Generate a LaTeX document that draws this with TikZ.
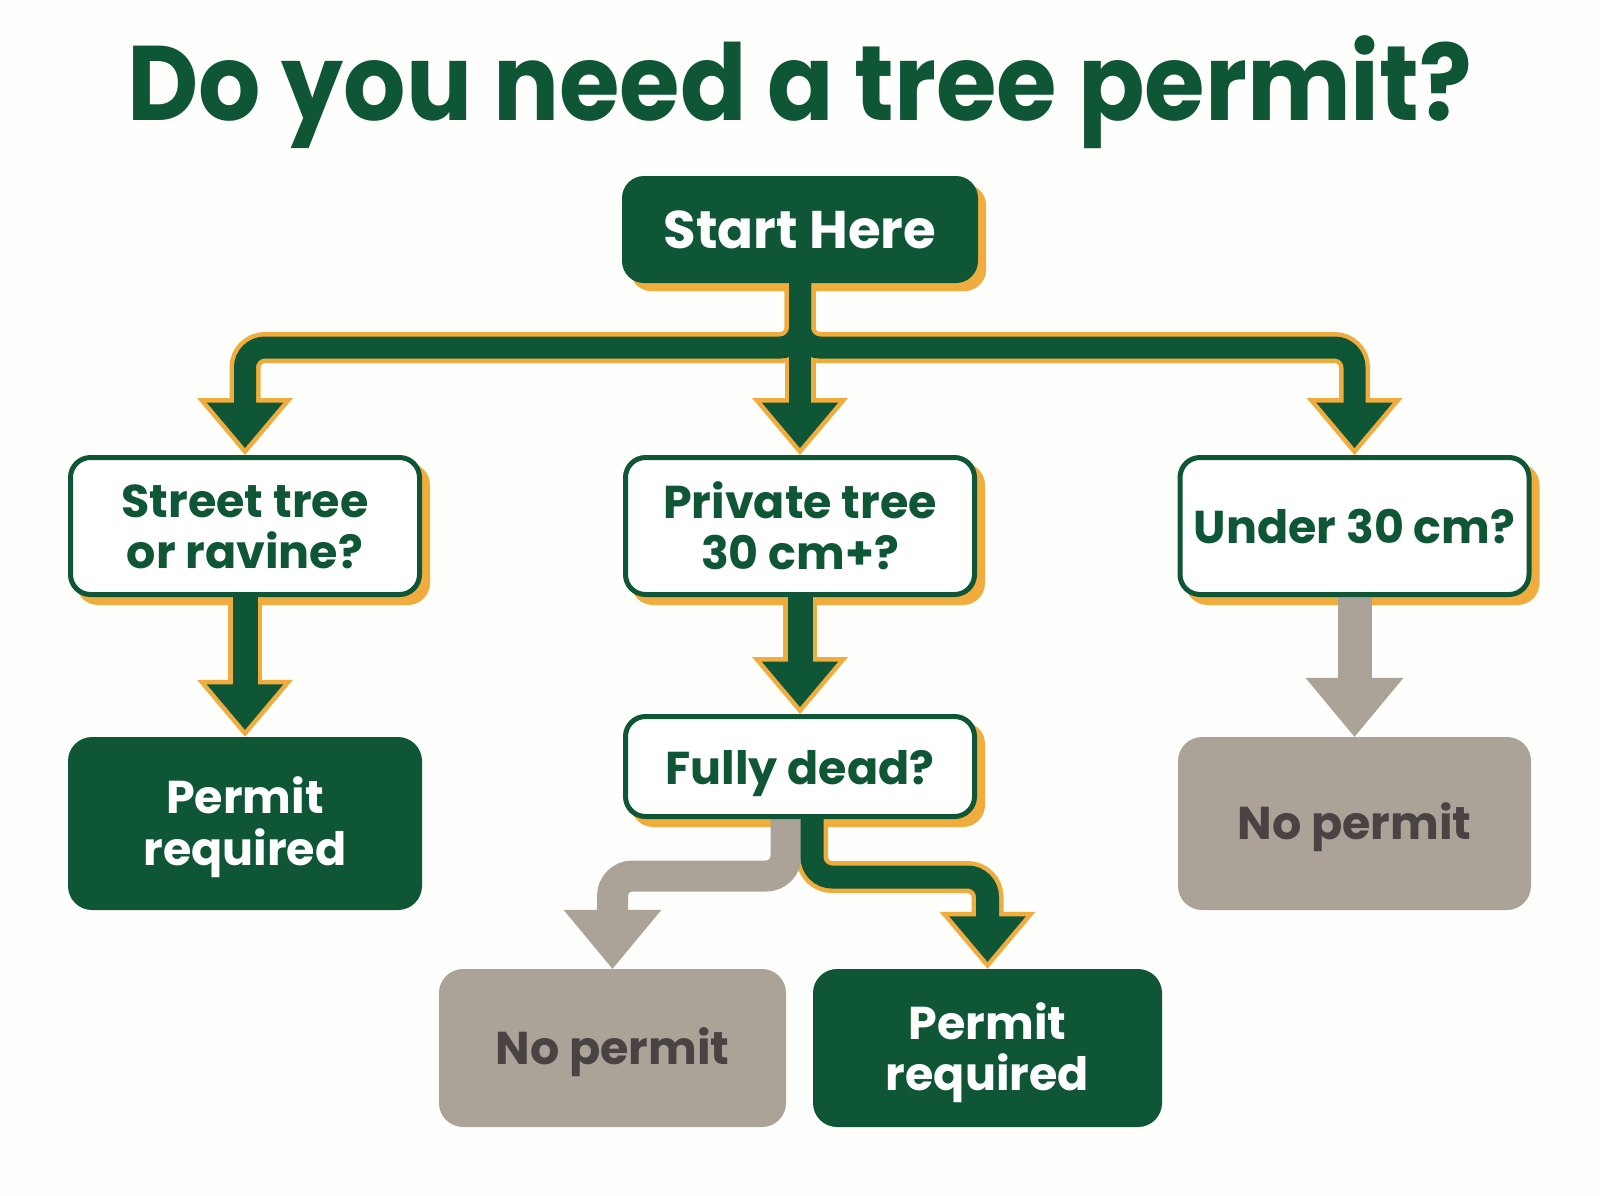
\documentclass[tikz,border=0pt]{standalone}
\usepackage{fontspec}
\setmainfont{Poppins}
\newfontfamily\titlefont{Poppins}[FakeStretch=0.925]
\usetikzlibrary{calc}
\definecolor{tgreen}{HTML}{0E5636}
\definecolor{torange}{HTML}{F0AD3E}
\definecolor{tgrey}{HTML}{ABA398}
\definecolor{tgreytext}{HTML}{4A4343}
\definecolor{paper}{HTML}{FEFEFD}
\pgfdeclarelayer{paper}
\pgfdeclarelayer{shadows}
\pgfdeclarelayer{links}
\pgfsetlayers{paper,shadows,links,main}
\begin{document}
\begin{tikzpicture}[x=1pt,y=-1pt,
  qbox/.style={rectangle, rounded corners=20, draw=tgreen, line width=5, fill=white,
    minimum width=349, minimum height=137, inner sep=0},
  startbox/.style={rectangle, rounded corners=22, fill=tgreen, minimum width=356,
    minimum height=107, inner sep=0},
  yesbox/.style={rectangle, rounded corners=24, fill=tgreen, inner sep=0},
  nobox/.style={rectangle, rounded corners=24, fill=tgrey, inner sep=0},
  lbl/.style={anchor=base, inner sep=0, font=\bfseries\fontsize{46}{46}\selectfont},
  qlbl/.style={lbl, text=tgreen},
  wlbl/.style={lbl, text=white},
  nlbl/.style={lbl, text=tgreytext},
  olink/.style={draw=torange, line width=#1, rounded corners=20},
  glink/.style={draw=tgreen, line width=#1, rounded corners=20},
  ylink/.style={draw=tgrey, line width=#1, rounded corners=20},
  headO/.pic={\fill[torange] (0,0) -- (48,-57) -- (-48,-57) -- cycle;},
  headG/.pic={\fill[tgreen] (0,-7) -- (38.3,-52.5) -- (-38.3,-52.5) -- cycle;},
  headY/.pic={\fill[tgrey] (0,0) -- (49,-59) -- (-49,-59) -- cycle;}
]
\begin{pgfonlayer}{paper}
  \fill[paper] (0,0) rectangle (1600,1195);
\end{pgfonlayer}
\useasboundingbox (0,0) rectangle (1600,1195);

% title
\node[anchor=base, inner sep=0, text=tgreen, font=\titlefont\bfseries\fontsize{106}{106}\selectfont]
  (title) at (800,120) {Do you need a tree permit?};

% boxes
\node[startbox] (start) at (800,229.5) {};
\node[qbox] (street) at (245,526) {};
\node[qbox] (private) at (800,526) {};
\node[qbox] (under) at (1354.5,526) {};
\node[qbox, minimum height=100] (dead) at (800,766.5) {};
\node[yesbox, minimum width=354, minimum height=173] (permitA) at (245,823.5) {};
\node[nobox, minimum width=353, minimum height=173] (nopermitR) at (1354.5,823.5) {};
\node[nobox, minimum width=347, minimum height=158] (nopermitB) at (612.5,1048) {};
\node[yesbox, minimum width=349, minimum height=158] (permitB) at (987.5,1048) {};

% labels
\node[wlbl, font=\bfseries\fontsize{53}{53}\selectfont] (startT) at ($(start)+(0,18.5)$) {Start Here};
\node[qlbl] (streetA) at ($(street)+(0,-9)$) {Street tree};
\node[qlbl] (streetB) at ($(street)+(0,42)$) {or ravine?};
\node[qlbl] (privateA) at ($(private)+(0,-8)$) {Private tree};
\node[qlbl] (privateB) at ($(private)+(0,43)$) {30 cm+?};
\node[qlbl] (underT) at ($(under)+(0,17)$) {Under 30 cm?};
\node[qlbl] (deadT) at ($(dead)+(0,17.5)$) {Fully dead?};
\node[wlbl] (permitAa) at ($(permitA)+(0,-10.5)$) {Permit};
\node[wlbl] (permitAb) at ($(permitA)+(0,41.5)$) {required};
\node[nlbl] (nopermitRT) at ($(nopermitR)+(0,15.5)$) {No permit};
\node[nlbl] (nopermitBT) at ($(nopermitB)+(0,16)$) {No permit};
\node[wlbl] (permitBa) at ($(permitB)+(0,-9)$) {Permit};
\node[wlbl] (permitBb) at ($(permitB)+(0,42)$) {required};

% orange drop shadows behind the question boxes
\begin{pgfonlayer}{shadows}
  \foreach \b in {start,street,private,under,dead}
    \fill[torange, rounded corners=22] ([shift={(8,8)}]\b.south west) rectangle ([shift={(8,8)}]\b.north east);
\end{pgfonlayer}

% connectors: orange rims first, grey arrows, then green cores
\coordinate (jn) at (800,347.5);
\coordinate (gturn) at (812,877);
\coordinate (yturn) at (786,876);
\begin{pgfonlayer}{links}
  % orange rims
  \draw[olink=31] (start.center) -- (jn) -- (jn -| street) -- ($(street.north)+(0,-52)$);
  \draw[olink=31] (start.center) -- (jn) -- (jn -| under) -- ($(under.north)+(0,-52)$);
  \draw[olink=31] (start.center) -- ($(private.north)+(0,-52)$);
  \draw[olink=34] (street.center) -- ($(permitA.north)+(0,-52)$);
  \draw[olink=34] (private.center) -- ($(dead.north)+(0,-52)$);
  \draw[olink=32] ($(dead.center)+(12,0)$) -- (gturn) -- (gturn -| permitB) -- ($(permitB.north)+(0,-52)$);
  \foreach \t in {street,private,under,permitA,dead,permitB}
    \pic at (\t.north) {headO};
  % grey arrows
  \draw[ylink=34] (under.center) -- ($(nopermitR.north)+(0,-54)$);
  \draw[ylink=31] ($(dead.center)+(-14,0)$) -- (yturn) -- (yturn -| nopermitB) -- ($(nopermitB.north)+(0,-54)$);
  \pic at (nopermitR.north) {headY};
  \pic at (nopermitB.north) {headY};
  % green cores
  \draw[glink=22] (start.center) -- (jn) -- (jn -| street) -- ($(street.north)+(0,-52)$);
  \draw[glink=22] (start.center) -- (jn) -- (jn -| under) -- ($(under.north)+(0,-52)$);
  \draw[glink=22] (start.center) -- ($(private.north)+(0,-52)$);
  \draw[glink=25] (street.center) -- ($(permitA.north)+(0,-52)$);
  \draw[glink=25] (private.center) -- ($(dead.north)+(0,-52)$);
  \draw[glink=23] ($(dead.center)+(12,0)$) -- (gturn) -- (gturn -| permitB) -- ($(permitB.north)+(0,-52)$);
  \foreach \t in {street,private,under,permitA,dead,permitB}
    \pic at (\t.north) {headG};
\end{pgfonlayer}
\end{tikzpicture}
\end{document}
